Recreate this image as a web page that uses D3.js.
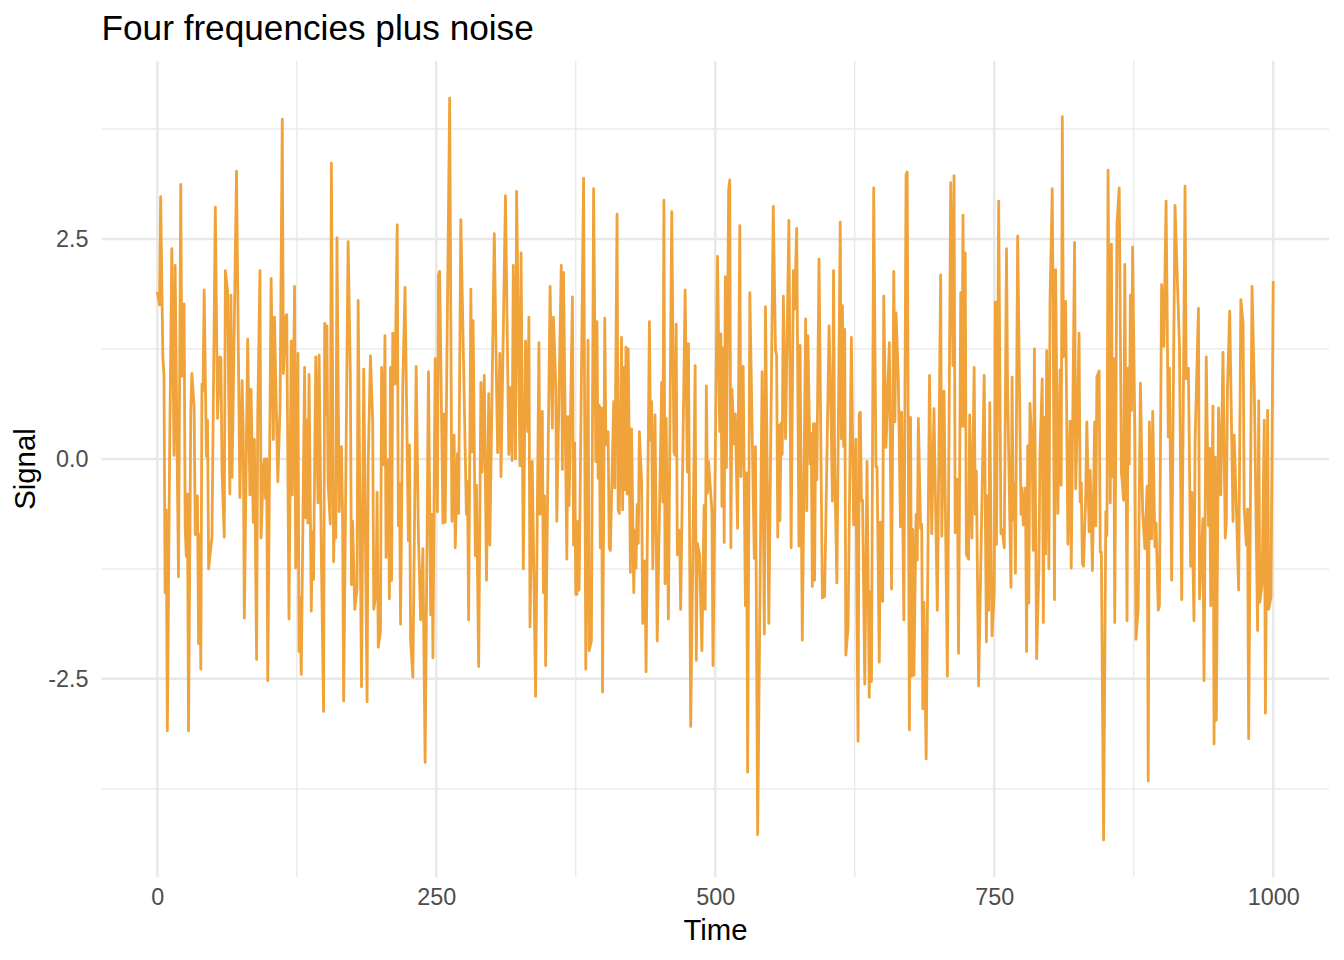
<!DOCTYPE html>
<html>
<head>
<meta charset="utf-8">
<script src="https://cdn.jsdelivr.net/npm/d3@7"></script>
<style>
    html, body { margin: 0; padding: 0; background: #fff; }
    text { font-family: "Liberation Sans", Arial, sans-serif; }
</style>
</head>
<body>
<svg id="chart-display" width="1344" height="960"></svg>
<script>
// Turning points of the trace
const timeA = [0,2,3,5,6,7,8,9,11,13,15,16,17,19,21,22,24,25,26,27,28,30,31,33,34,36,37,38,39,40,41,42,44,45,46,49,52,54,56,57,58,60,61,63,65,66,67,71,74,76,77,78,81,83,84,86,87,89,90,92,93,95,96,97,98,99,102,104,105,108,110,112,113,115,116,118,120,121,123,124,126,127,128,129,132,133,134,135,136,138,139,140,142,144,145,147,149,150,151,152,153,155,156,158,159,160,161,163];
const signalA = [1.90,1.75,2.98,1.15,0.94,-1.52,-0.58,-3.09,-0.02,2.39,0.04,2.20,0.94,-1.34,3.12,0.94,1.76,-0.78,-1.11,-0.40,-3.09,0.54,0.97,0.59,-0.86,-0.42,-2.10,-0.86,-2.39,0.85,0.78,1.92,0.03,0.44,-1.25,-0.88,2.86,0.46,1.16,1.15,-0.13,-0.89,2.14,1.91,-0.40,1.86,-0.21,3.27,-0.44,0.89,0.34,-1.81,1.36,-0.41,0.79,-0.72,0.22,-2.28,0.49,2.14,-0.90,-0.10,0.0,-0.45,0.0,-2.52,2.05,0.22,1.61,-0.26,0.59,3.86,0.97,1.62,1.64,-1.82,1.34,-0.41,1.96,-1.24,1.20,-2.19,-1.57,-2.45,1.04,-0.67,0.44,-0.73,0.96,-1.73,-0.83,-1.37,1.16,-0.50,1.18,-1.09,-2.87,1.54,0.51,1.51,-0.26,-0.74,3.36,-1.17,-0.44,-0.90,2.51,-0.60];

const timeB = [165,166,167,171,173,174,175,177,179,180,183,185,188,189,191,193,194,196,197,198,200,201,203,204,205,207,208,209,210,211,213,215,216,217,218,220,222,225,226,227,229,232,234,236,238,240,243,245,246,247,249,251,252,253,256,257,258,262,264,266,267,269,270,272,277,278,279,281,282,283,285,286,288,290,291,293,295,297,298,302,304,305,307,308,312,315,316,318,319,321,322,325,326,328];
const signalB = [0.14,-0.60,-2.75,2.47,0.95,-1.43,-0.71,-1.71,-1.47,1.80,-2.59,1.02,-2.76,-0.06,1.17,0.44,-1.71,-1.52,-0.38,-2.14,-1.96,1.04,-0.07,1.40,-1.12,-0.01,-1.59,1.04,-1.38,1.43,0.85,2.66,-0.76,-0.28,-1.88,0.84,1.95,-0.93,0.16,-2.07,-2.48,1.05,-0.88,-1.83,-1.02,-3.45,0.99,-1.77,-0.63,-2.26,1.14,-0.60,2.09,2.13,-0.73,0.51,-0.72,4.10,-0.71,0.27,-1.01,0.06,-0.62,2.72,-0.63,-0.26,-1.83,1.93,0.08,1.57,-1.10,-0.30,-2.36,0.87,-0.15,0.95,-1.38,0.74,-0.98,2.56,0.84,0.07,1.20,-0.20,2.99,0.05,0.81,-0.02,2.20,0.0,3.04,-0.08,2.34,-1.25];

const timeC = [330,332,333,334,336,339,342,343,345,346,347,348,352,354,355,357,358,362,363,364,367,368,369,372,373,374,375,376,377,378,382,384,386,387,389,391,393,394,395,396,397,398,399,401,402,404,405,406,409,410,412,413,414,416,417,418,419,420,421,422,424,425,427,428,429,430,431,432,434,435,437,438,441,442,443,444,446,448,451,452,453,454,455,456,458,461,463,464,465,466,468,469,473,475,476,478,482,483,484,486,488,490,491];
const signalC = [1.34,0.31,1.61,-1.91,-0.03,-2.70,1.32,-0.63,0.54,-1.52,-0.42,-2.35,1.96,0.35,1.61,0.87,-0.71,2.20,-0.12,2.12,-1.14,0.48,-0.53,1.84,-0.98,0.18,-1.54,-1.54,-0.71,-1.49,3.19,-2.39,1.35,-2.18,-2.07,3.07,-0.03,1.56,-0.22,0.61,-1.01,0.58,-2.65,1.60,0.16,0.31,-1.01,-1.04,0.65,-0.33,2.78,-0.58,-0.62,1.38,-0.58,1.04,-0.35,1.27,-0.40,1.25,-1.29,0.34,-1.52,-0.81,-1.24,-0.52,-0.96,0.31,-0.27,-1.87,-1.16,-2.42,1.56,0.21,0.65,-1.25,0.50,-2.07,0.13,0.87,-0.49,2.94,-1.42,0.46,-1.82,2.81,0.08,0.04,1.53,-1.09,-0.81,-1.71,1.92,-0.15,1.31,-3.04,1.06,-2.29,-0.96,-1.09,-2.18,-0.53,-1.71];

const timeD = [492,493,494,497,498,502,504,505,506,507,508,509,510,512,513,514,515,517,518,520,522,523,525,527,528,529,531,533,535,536,538,542,544,545,548,552,554,555,556,557,558,559,560,561,563,566,568,570,571,573,575,576,578,581,582,583,585,586,587,588,589,590,591,593,596,598,600,602,604,605,606,607,609,612,613,614,615,616,617,619,622,624,626,627,628,629,630,631,632,634,636,638,639,640,642,644,645,647,648,650,651,653,656,658,660,661];
const signalD = [0.83,-0.39,-0.03,-0.59,-2.35,2.30,0.31,1.42,-0.54,1.26,-0.95,2.07,-0.10,3.06,3.17,-1.01,0.79,0.17,0.51,-0.79,2.65,-0.20,1.05,-1.67,-0.16,-3.56,1.89,0.37,-1.13,0.14,-4.27,0.99,-1.99,1.73,-1.87,2.87,1.23,1.18,-0.89,0.38,-0.70,0.41,0.05,1.85,0.23,2.71,-1.01,2.14,1.70,2.62,-0.99,1.29,-2.06,1.59,-0.59,1.40,-0.06,0.29,-1.45,0.40,-1.38,0.40,-0.24,2.27,-1.58,-1.56,-0.04,1.51,0.32,-0.48,2.14,-0.04,-1.41,2.69,0.23,1.74,0.14,1.47,-2.23,-1.92,1.38,-0.75,0.22,-1.76,-3.21,0.51,0.53,-0.48,-0.47,-2.56,-0.03,-2.71,-1.51,-2.53,3.08,-0.09,-0.09,-2.31,-0.72,-1.62,1.85,0.13,1.32,-1.48,2.13,0.42];

const timeE = [662,664,666,667,669,671,672,674,675,676,677,678,680,681,682,684,685,686,687,689,692,694,696,699,702,703,705,708,711,713,714,715,717,718,720,721,722,723,724,725,727,728,730,732,733,734,736,741,743,744,745,746,748,750,751,752,754,756,757,759,761,762,765,766,767,768,769,771,774,775,776,778,779,780,781,782,784,785,786,788,790,791,793,794,795,796,797,799,800,802,803,804,805,807,809,810,811,812,814,816,818,819,822];
const signalE = [1.66,0.93,-0.77,0.53,-1.83,3.23,3.26,-3.08,0.47,-2.47,-0.80,-2.46,-0.63,-1.15,0.46,-0.79,-0.74,-2.84,-1.63,-3.41,0.95,-0.85,0.57,-1.72,2.09,-0.88,0.77,-2.47,3.14,1.06,3.22,-0.84,-0.23,-2.21,1.89,0.37,2.77,0.37,2.34,-1.08,-1.14,0.50,-0.90,1.04,-0.63,-0.14,-2.58,0.95,-2.08,-0.42,-1.72,0.64,-2.01,-1.52,1.78,-0.97,2.93,-0.85,-0.80,-1.01,2.39,0.78,-1.46,0.93,-0.69,-0.29,-1.30,2.53,-0.63,-0.33,-0.75,-0.33,-2.19,0.15,-1.64,0.63,0.13,-1.04,1.25,-2.27,-1.26,0.07,0.91,-1.86,0.47,-1.08,1.23,-1.25,1.80,3.07,1.28,-1.60,2.15,-0.62,1.01,-0.30,3.89,1.16,1.79,-0.97,0.43,-1.24,2.46];

const timeF = [823,825,826,827,828,829,830,832,833,835,836,838,840,841,842,844,845,846,848,850,851,852,854,855,856,857,858,860,862,864,866,867,869,870,871,872,873,874,876,877,879,881,883,885,887,888,889,891,892,894,895,897,898,900,902,904,906,907,909,912,916,918,921,922,924,926,927,929,930,933,934,937,938,940,942,943,944,946,947,948,949,951,953,955,957,958,959,961,964,965,967,969,971,973,974,976,977,978,981,983,986,987,988,990,992,993,995,996,998,1000];
const signalF = [-0.34,0.74,1.43,-0.49,-0.27,-1.19,-1.22,-0.41,0.42,-0.83,-0.13,-1.27,0.42,-0.76,0.93,1.00,-1.06,-1.06,-4.33,-0.60,-0.87,3.28,-0.50,2.44,-0.20,1.14,-1.86,2.67,3.08,-0.16,-0.47,2.21,-1.84,1.03,-0.06,1.86,0.55,2.41,0.31,-2.05,-1.70,0.86,-0.60,-1.02,-0.31,-3.66,0.42,-0.91,0.54,-1.00,-0.73,-1.72,-1.67,1.98,1.28,2.93,0.25,1.03,-1.38,2.88,1.28,-1.60,3.10,0.91,1.03,-1.22,-0.38,-1.84,0.20,1.71,-1.59,-0.68,-2.52,1.16,-0.76,0.12,-1.67,0.60,-3.24,0.02,-2.97,0.58,-0.41,1.21,-0.90,-0.71,0.80,1.68,-0.71,0.27,-0.55,-1.49,1.81,1.54,-0.57,-0.98,-0.57,-3.18,1.96,0.85,-1.95,0.66,-1.63,-1.43,0.44,-2.89,0.55,-1.71,-1.57,2.02];

const xMajor = [0, 250, 500, 750, 1000];
const xMinor = [125, 375, 625, 875];
const yMajor = [-2.5, 0, 2.5];
const yMinor = [-3.75, -1.25, 1.25, 3.75];

const time = [...timeA, ...timeB, ...timeC, ...timeD, ...timeE, ...timeF];
const signal = [...signalA, ...signalB, ...signalC, ...signalD, ...signalE, ...signalF];
const points = time.map((t, i) => ({ t: t, v: signal[i] }));

const svg = d3.select("#chart-display");

// ggplot style 5% expansion on both axes
const [xLo, xHi] = d3.extent(time), xPad = (xHi - xLo) * 0.05;
const [yLo, yHi] = d3.extent(signal), yPad = (yHi - yLo) * 0.05;
const x = d3.scaleLinear().domain([xLo - xPad, xHi + xPad]).range([101.5, 1329]);
const y = d3.scaleLinear().domain([yLo - yPad, yHi + yPad]).range([877, 61]);

// Grid
const grid = svg.append("g").attr("fill", "none").attr("stroke", "#E8E8E8");
const drawV = (vals, w) => grid.append("g").attr("stroke-width", w)
    .selectAll("line").data(vals).join("line")
        .attr("x1", d => x(d)).attr("x2", d => x(d))
        .attr("y1", y.range()[0]).attr("y2", y.range()[1]);
const drawH = (vals, w) => grid.append("g").attr("stroke-width", w)
    .selectAll("line").data(vals).join("line")
        .attr("y1", d => y(d)).attr("y2", d => y(d))
        .attr("x1", x.range()[0]).attr("x2", x.range()[1]);
drawV(xMinor, 1.3);
drawH(yMinor, 1.3);
drawV(xMajor, 2.5);
drawH(yMajor, 2.5);

// Signal
const line = d3.line().x(d => x(d.t)).y(d => y(d.v));
svg.append("path")
    .datum(points)
    .attr("fill", "none")
    .attr("stroke", "#F0A33B")
    .attr("stroke-width", 2.8)
    .attr("stroke-linejoin", "round")
    .attr("d", line);

// Axes
const xAxis = svg.append("g")
    .attr("transform", `translate(0, 877)`)
    .call(d3.axisBottom(x).tickValues(xMajor).tickSize(0).tickPadding(11).tickFormat(d3.format("d")));
const yAxis = svg.append("g")
    .attr("transform", `translate(101.5, 0)`)
    .call(d3.axisLeft(y).tickValues(yMajor).tickSize(0).tickPadding(13).tickFormat(d => d.toFixed(1)));
[xAxis, yAxis].forEach(a => {
    a.select(".domain").remove();
    a.selectAll("text").attr("fill", "#4D4D4D").style("font-size", "23.4px")
        .style("font-family", '"Liberation Sans", Arial, sans-serif');
});

// Titles
svg.append("text").attr("x", 101.5).attr("y", 39.5)
    .style("font-size", "35.2px").attr("fill", "#000").text("Four frequencies plus noise");
svg.append("text").attr("x", 715.5).attr("y", 940)
    .attr("text-anchor", "middle").style("font-size", "29.3px").attr("fill", "#000").text("Time");
svg.append("text").attr("transform", "translate(35, 469) rotate(-90)")
    .attr("text-anchor", "middle").style("font-size", "29.3px").attr("fill", "#000").text("Signal");
</script>
</body>
</html>
